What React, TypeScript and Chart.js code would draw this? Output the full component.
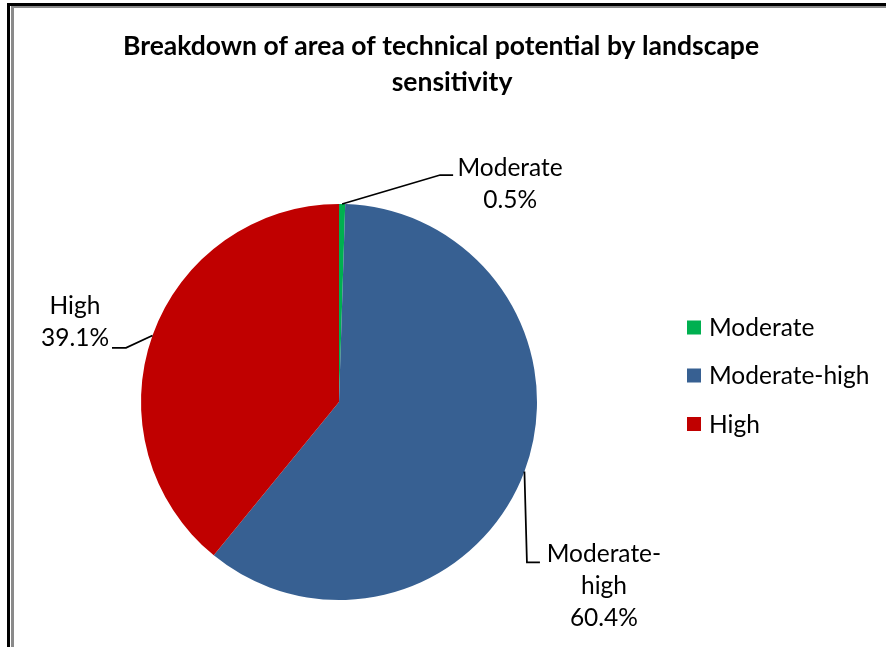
import React, { useEffect, useRef } from "react";
import { Chart, registerables } from "chart.js";

Chart.register(...registerables);

// ---- data ----
const categories = ["Moderate", "Moderate-high", "High"];
const values = [0.5, 60.4, 39.1];
const sliceColors = ["#00B050", "#376092", "#C00000"];
const titleLines = ["Breakdown of area of technical potential by landscape", "sensitivity"];
const labelNameLines = [["Moderate"], ["Moderate-", "high"], ["High"]];

// ---- layout of data labels (offsets relative to the slice's outer-edge mid point) ----
const labelLayout = [
  { elbow: [98, -29], end: [111, -29], text: [168, -36] },
  { elbow: [2.5, 91], end: [15.5, 91], text: [79.5, 83] },
  { elbow: [-26.5, 12.4], end: [-40.5, 12.4], text: [-77.5, -29.6] },
];

const W = 886;
const H = 647;
const FONT = 'Lato, "Open Sans", sans-serif';
const LABEL_SIZE = 24.5;
const TITLE_SIZE = 26.5;
const LINE_GAP = 32;

const decorPlugin = {
  id: "decor",
  beforeDraw(chart: any) {
    const ctx = chart.ctx;
    ctx.save();
    ctx.fillStyle = "#ffffff";
    ctx.fillRect(0, 0, W, H);
    // frame
    ctx.fillStyle = "#000000";
    ctx.fillRect(7, 3, 3, H);
    ctx.fillRect(7, 3, W, 3);
    ctx.fillStyle = "#8a8a8a";
    ctx.fillRect(11, 6, 3, H);
    ctx.fillRect(11, 6, W, 2);
    ctx.restore();
  },
  afterDraw(chart: any) {
    const ctx = chart.ctx;
    ctx.save();
    // title
    ctx.fillStyle = "#000000";
    ctx.font = `bold ${TITLE_SIZE}px ${FONT}`;
    ctx.textAlign = "center";
    ctx.textBaseline = "middle";
    ctx.fillText(titleLines[0], 441, 46);
    ctx.fillText(titleLines[1], 452, 82);

    // legend
    const items = chart.legend && chart.legend.legendItems ? chart.legend.legendItems : [];
    const legendYs = [327.5, 375.5, 424];
    ctx.font = `${LABEL_SIZE}px ${FONT}`;
    ctx.textAlign = "left";
    categories.forEach((c, i) => {
      const col = (items[i] && items[i].fillStyle) || sliceColors[i];
      ctx.fillStyle = col;
      ctx.fillRect(687, legendYs[i] - 7, 14, 14);
      ctx.fillStyle = "#000000";
      ctx.fillText(c, 709, legendYs[i] + 1);
    });

    // data labels with leader lines
    const meta = chart.getDatasetMeta(0);
    meta.data.forEach((arc: any, i: number) => {
      const p = arc.getProps(["x", "y", "startAngle", "endAngle", "outerRadius"], true);
      const mid = (p.startAngle + p.endAngle) / 2;
      const ex = p.x + Math.cos(mid) * p.outerRadius;
      const ey = p.y + Math.sin(mid) * p.outerRadius;
      const L = labelLayout[i];
      ctx.strokeStyle = "#000000";
      ctx.lineWidth = 1.75;
      ctx.beginPath();
      ctx.moveTo(ex, ey);
      ctx.lineTo(ex + L.elbow[0], ey + L.elbow[1]);
      ctx.lineTo(ex + L.end[0], ey + L.end[1]);
      ctx.stroke();
      const lines = [...labelNameLines[i], `${values[i]}%`];
      ctx.fillStyle = "#000000";
      ctx.font = `${LABEL_SIZE}px ${FONT}`;
      ctx.textAlign = "center";
      ctx.textBaseline = "middle";
      lines.forEach((t, k) => {
        ctx.fillText(t, ex + L.text[0], ey + L.text[1] + k * LINE_GAP);
      });
    });
    ctx.restore();
  },
};

export default function App() {
  const ref = useRef<HTMLCanvasElement | null>(null);
  useEffect(() => {
    if (!ref.current) return;
    const chart = new Chart(ref.current, {
      type: "pie",
      data: {
        labels: categories,
        datasets: [
          {
            data: values,
            backgroundColor: sliceColors,
            borderWidth: 0,
          },
        ],
      },
      options: {
        responsive: false,
        animation: false,
        layout: { padding: { left: 0, right: 208, top: 204, bottom: 47 } },
        plugins: {
          legend: { display: false },
          title: { display: false },
          tooltip: { enabled: false },
        },
      },
      plugins: [decorPlugin],
    });
    return () => chart.destroy();
  }, []);
  return (
    <div style={{ position: "absolute", left: 0, top: 0, width: W, height: H, background: "#fff" }}>
      <canvas ref={ref} width={W} height={H} style={{ display: "block" }} />
    </div>
  );
}
